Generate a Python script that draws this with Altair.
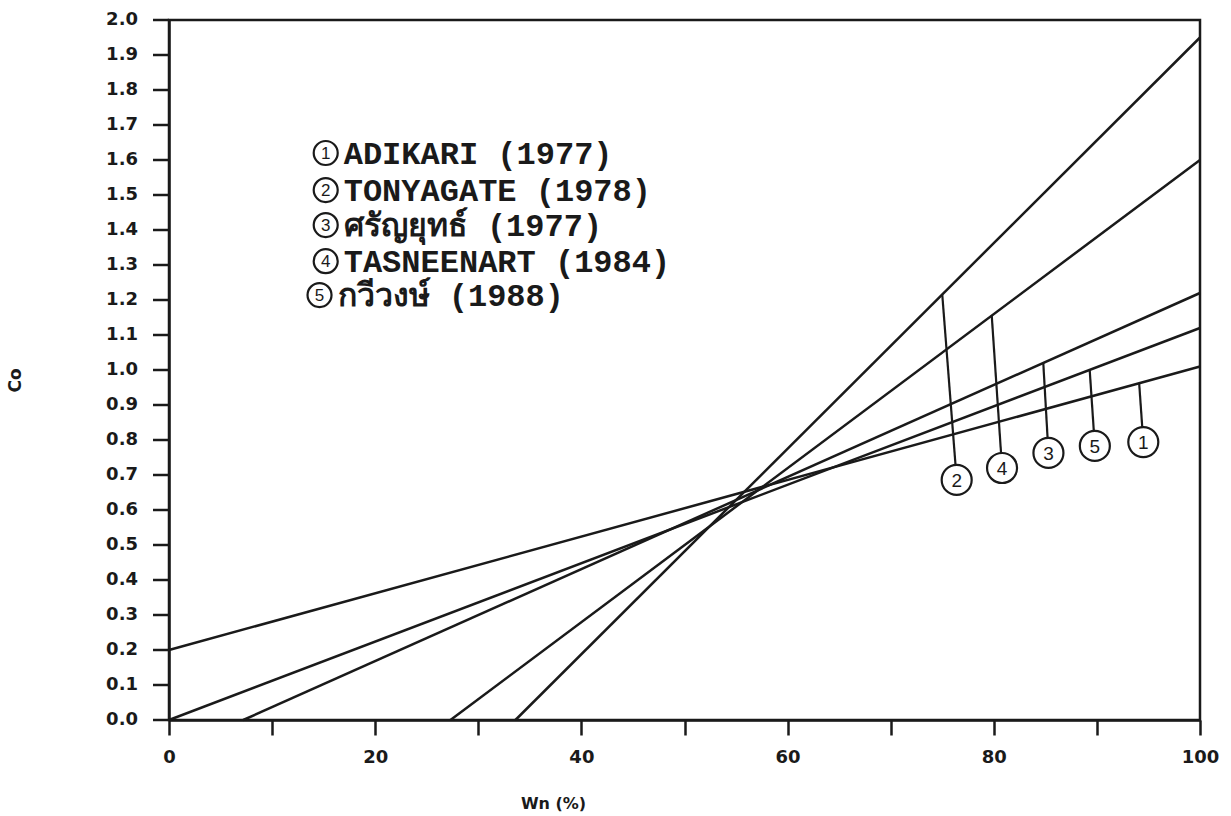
import altair as alt
import pandas as pd

# ---- data ----
series_ids = ["1", "2", "3", "4", "5"]
series_names = ["ADIKARI (1977)", "TONYAGATE (1978)", "ศรัญยุทธ์ (1977)",
                "TASNEENART (1984)", "กวีวงษ์ (1988)"]
# line start points (Wn, Co) and end points (Wn, Co)
start_wn = [0.0, 33.6, 7.2, 27.3, 0.0]
start_co = [0.20, 0.0, 0.0, 0.0, 0.0]
end_wn = [100.0, 100.0, 100.0, 100.0, 100.0]
end_co = [1.01, 1.95, 1.22, 1.60, 1.12]

# leader labels: x where the leader touches its line, label circle centre
leader_wn = [94.1, 75.0, 84.8, 79.8, 89.3]
circle_wn = [94.5, 76.4, 85.3, 80.8, 89.8]
circle_co = [0.794, 0.686, 0.763, 0.720, 0.783]

# legend block (data coordinates)
legend_wn = [15.2, 15.2, 15.2, 15.2, 14.6]
legend_co = [1.620, 1.514, 1.414, 1.311, 1.214]

x_ticks = list(range(0, 101, 10))
y_ticks = [round(i * 0.1, 1) for i in range(21)]
y_tick_labels = [f"{v:.1f}" for v in y_ticks]

# ---- tables ----
lines = pd.DataFrame(
    [{"id": s, "Wn": a, "Co": b, "o": 0} for s, a, b in zip(series_ids, start_wn, start_co)]
    + [{"id": s, "Wn": a, "Co": b, "o": 1} for s, a, b in zip(series_ids, end_wn, end_co)]
)


def co_at(i, wn):
    slope = (end_co[i] - start_co[i]) / (end_wn[i] - start_wn[i])
    return start_co[i] + slope * (wn - start_wn[i])


leaders = pd.DataFrame([
    {"id": series_ids[i], "Wn": leader_wn[i], "Co": co_at(i, leader_wn[i]),
     "Wn2": circle_wn[i], "Co2": circle_co[i]}
    for i in range(5)
])
circles = pd.DataFrame({"id": series_ids, "Wn": circle_wn, "Co": circle_co})
legend = pd.DataFrame({"id": series_ids, "name": series_names,
                       "Wn": legend_wn, "Co": legend_co})
yticks_df = pd.DataFrame({"Co": y_ticks, "label": y_tick_labels})

W, H = 1031, 700
xs = alt.Scale(domain=[0, 100], nice=False, zero=False)
ys = alt.Scale(domain=[0, 2.0], nice=False, zero=False)
INK = "#1a1a1a"
TICKFONT = "DejaVu Sans"

x_axis = alt.Axis(values=x_ticks, labelExpr="datum.value % 20 == 0 ? datum.label : ''",
                  tickSize=15, labelPadding=13, title="Wn (%)",
                  titleX=384, titleY=83)
y_axis = alt.Axis(ticks=False, labels=False, title="Co",
                  titleX=-154, titleY=360)

X = alt.X("Wn:Q", scale=xs, axis=x_axis)
Y = alt.Y("Co:Q", scale=ys, axis=y_axis)

base_lines = alt.Chart(lines).mark_line(color=INK, strokeWidth=2.5).encode(
    x=X, y=Y, detail="id:N", order="o:Q",
)

# y axis ticks and labels, one per value of y_ticks, placed by the y scale
y_tick_marks = alt.Chart(yticks_df).mark_rule(color=INK, strokeWidth=2.5).encode(
    y=Y, x=alt.value(-16), x2=alt.value(0),
)
y_tick_text = alt.Chart(yticks_df).mark_text(
    font=TICKFONT, fontSize=18, fontWeight="bold", color=INK,
    align="right", baseline="middle"
).encode(y=Y, x=alt.value(-31), text="label:N")

leader_rules = alt.Chart(leaders).mark_rule(color=INK, strokeWidth=2.2).encode(
    x=X, y=Y, x2="Wn2:Q", y2="Co2:Q",
)

label_circles = alt.Chart(circles).mark_point(
    shape="circle", size=900, filled=False, fill="white", fillOpacity=1,
    stroke=INK, strokeWidth=2.2, opacity=1
).encode(x=X, y=Y)

label_digits = alt.Chart(circles).mark_text(
    font="Liberation Sans", fontSize=19, color=INK, baseline="middle", align="center", dy=1
).encode(x=X, y=Y, text="id:N")

legend_circles = alt.Chart(legend).mark_point(
    shape="circle", size=576, filled=False, fill="white", fillOpacity=1,
    stroke=INK, strokeWidth=2.2, opacity=1
).encode(x=X, y=Y)

legend_digits = alt.Chart(legend).mark_text(
    font="Liberation Sans", fontSize=17, color=INK, baseline="middle", align="center", dy=1
).encode(x=X, y=Y, text="id:N")

legend_text = alt.Chart(legend).mark_text(
    font="Liberation Mono", fontSize=32, fontWeight="bold", color=INK,
    baseline="middle", align="left", dx=18, dy=1
).encode(x=X, y=Y, text="name:N")

chart = alt.layer(
    base_lines, y_tick_marks, y_tick_text, leader_rules, label_circles, label_digits,
    legend_circles, legend_digits, legend_text
).properties(
    width=W, height=H,
    autosize=alt.AutoSizeParams(type="none"),
    padding={"left": 169, "top": 20, "right": 31, "bottom": 96},
    background="white",
).configure_view(
    stroke=INK, strokeWidth=2.5
).configure_axis(
    tickWidth=2.5, tickColor=INK, domainColor=INK, domainWidth=2.5,
    labelFont=TICKFONT, labelFontSize=18, labelFontWeight="bold", labelColor=INK,
    labelOverlap=False, labelFlush=False, grid=False,
    titleFont=TICKFONT, titleFontWeight="bold", titleColor=INK,
    titleAlign="center", titleBaseline="middle",
).configure_axisX(titleFontSize=16).configure_axisY(titleFontSize=17)

chart.save("out.html", embed_options={"renderer": "svg", "actions": False})
